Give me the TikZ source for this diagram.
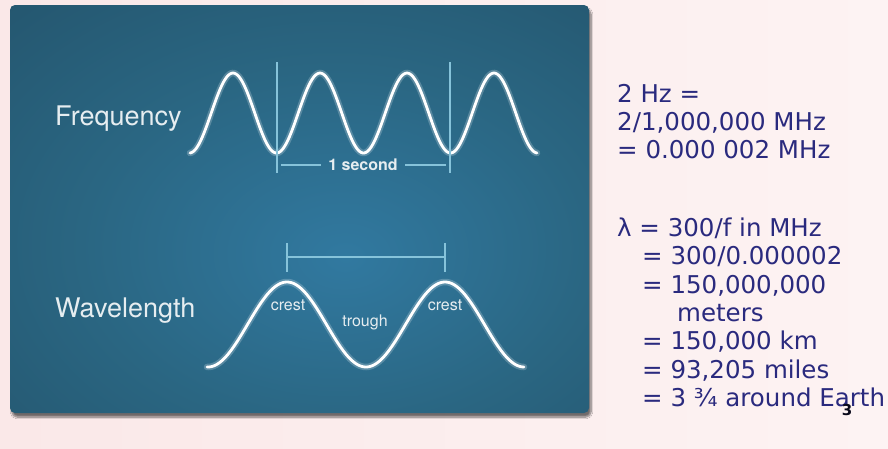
\documentclass[tikz,border=0pt]{standalone}
\usepackage{fontspec}
\usetikzlibrary{shadows.blur}
\newfontfamily\helv{TeX Gyre Heros}
\newfontfamily\verd{DejaVu Sans}
\definecolor{bgpink}{HTML}{FAE8E8}
\definecolor{bglight}{HTML}{FDF3F3}
\definecolor{pin}{HTML}{3179A0}
\definecolor{pmid}{HTML}{2A6682}
\definecolor{pout}{HTML}{204A60}
\definecolor{dimblue}{HTML}{86C3DA}
\definecolor{lbltext}{HTML}{E6EDF0}
\definecolor{navy}{HTML}{2A2A7E}
\pgfdeclareradialshading{panelshade}{\pgfpoint{4bp}{-6bp}}{color(0bp)=(pin); color(22bp)=(pmid); color(55bp)=(pout); color(100bp)=(pout)}
\tikzset{
  lbl/.style={font=\helv\fontsize{27}{32}\selectfont, text=lbltext, inner sep=0pt},
  small/.style={font=\helv\bfseries\fontsize{16}{19}\selectfont, text=lbltext, inner sep=0pt},
  tiny/.style={font=\helv\fontsize{16}{19}\selectfont, text=lbltext, inner sep=0pt},
  eq/.style={font=\verd\fontsize{24.5}{29}\selectfont, text=navy, inner sep=0pt, anchor=base west},
  wave/.style={white, line width=2.8pt, line cap=round},
  waveglow/.style={white, opacity=0.22, line width=6.5pt, line cap=round},
  dim/.style={dimblue, line width=1.2pt}
}
\begin{document}
\begin{tikzpicture}[x=1pt, y=-1pt]
% background
\shade[left color=bgpink, right color=bglight] (0,0) rectangle (888,448);
\useasboundingbox (0,0) rectangle (888,448);
% panel
\shade[shading=panelshade, rounded corners=5pt,
  blur shadow={shadow xshift=2pt, shadow yshift=-4pt, shadow blur steps=8, shadow opacity=55}]
  (10,5) rectangle (589,413);

% labels
\node[lbl, anchor=base west] (freq) at (55,125) {Frequency};
\node[lbl, anchor=base west] (wlen) at (55,317) {Wavelength};

% frequency wave
\draw[waveglow] plot[domain=190:537, samples=220, smooth] (\x, {113-40*cos(4.1379*(\x-233))});
\draw[wave] plot[domain=190:537, samples=220, smooth] (\x, {113-40*cos(4.1379*(\x-233))});

% 1 second markers
\coordinate (v1t) at (277,62);
\coordinate (v1b) at (277,173);
\coordinate (v2t) at (450,62);
\coordinate (v2b) at (450,173);
\draw[dim] (v1t) -- (v1b);
\draw[dim] (v2t) -- (v2b);
\node[small] (sec) at (363,165) {1 second};
\coordinate (s1) at (277,165);
\coordinate (s2) at (450,165);
\draw[dim, shorten <=4pt, shorten >=7pt] (s1) -- (sec.west |- s1);
\draw[dim, shorten <=4pt, shorten >=7pt] (s2) -- (sec.east |- s2);

% wavelength wave
\draw[waveglow] plot[domain=207:524, samples=220, smooth] (\x, {324.5-42.5*cos(2.2785*(\x-287))});
\draw[wave] plot[domain=207:524, samples=220, smooth] (\x, {324.5-42.5*cos(2.2785*(\x-287))});

% wavelength bracket
\coordinate (b1t) at (287,243);
\coordinate (b1b) at (287,272);
\coordinate (b2t) at (445,243);
\coordinate (b2b) at (445,272);
\coordinate (b1m) at (287,257);
\coordinate (b2m) at (445,257);
\draw[dim] (b1t) -- (b1b);
\draw[dim] (b2t) -- (b2b);
\draw[dim] (b1m) -- (b2m);

\node[tiny] (crest1) at (288,305) {crest};
\node[tiny] (trough) at (365,322) {trough};
\node[tiny] (crest2) at (445,305) {crest};

% right text
\node[eq] (l1) at (617,102) {2 Hz =};
\node[eq] (l2) at (617,130) {2/1,000,000 MHz};
\node[eq] (l3) at (617,158) {= 0.000 002 MHz};
\node[eq] (l4) at (617,236) {λ = 300/f in MHz};
\node[eq] (l5) at (642,264) {= 300/0.000002};
\node[eq] (l6) at (642,293) {= 150,000,000};
\node[eq] (l7) at (677,321) {meters};
\node[eq] (l8) at (642,349) {= 150,000 km};
\node[eq] (l9) at (642,378) {= 93,205 miles};
\node[eq] (l10) at (642,406) {= 3 ¾ around Earth};
\node[font=\verd\bfseries\fontsize{15}{18}\selectfont, text=black!80!navy, inner sep=0pt] (pg) at (847,410) {3};
\end{tikzpicture}
\end{document}
